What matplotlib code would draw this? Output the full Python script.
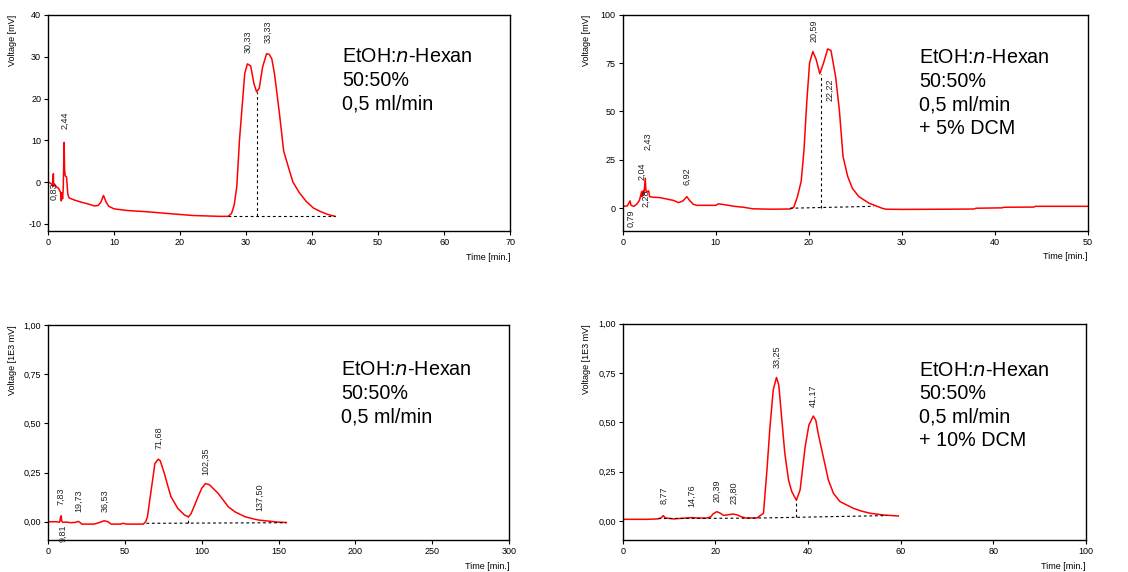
import matplotlib.pyplot as plt

plt.rcParams['font.family'] = ['Liberation Sans', 'DejaVu Sans']

#%% data
# top left: EtOH:n-Hexan 50:50, 0.5 ml/min
t1 = [0, 0.4, 0.7, 0.8, 0.85, 1.0, 1.3, 1.6, 1.9, 2.0, 2.1, 2.2, 2.3, 2.44, 2.5, 2.6, 2.8, 3.0, 3.2,
      4, 5, 6, 7, 7.6, 8.0, 8.4, 8.8, 9.2, 10, 12, 15, 18, 22, 26, 27.3, 27.8, 28.2, 28.6, 29.0,
      29.4, 29.8, 30.2, 30.7, 31.2, 31.6, 32.0, 32.5, 33.1, 33.5, 33.9, 34.3, 34.7, 35.1, 35.7,
      36.6, 37.1, 38.1, 39.1, 40.2, 41.2, 42.3, 43.5]
v1 = [0, -0.3, -0.8, 2.0, -1.0, -0.5, -1.2, -1.5, -2.5, -4.5, -2.5, -4.0, -1.5, 9.5, 3.0, 1.5, 1.2,
      -3.0, -3.8, -4.3, -4.8, -5.2, -5.7, -5.6, -4.8, -3.2, -4.8, -5.8, -6.4, -6.8, -7.1, -7.5,
      -8.0, -8.2, -8.2, -7.5, -5.5, -1.0, 10.0, 18.0, 26.0, 28.3, 27.8, 23.5, 21.6, 22.5, 27.5,
      30.7, 30.6, 29.5, 26.0, 21.0, 15.8, 7.4, 2.6, 0.0, -2.6, -4.6, -6.2, -7.0, -7.7, -8.2]
base1_t = [27.3, 43.5]
base1_v = [-8.2, -8.2]
drop1_t = 31.6
drop1_v = 21.6
lab1 = ['0,83', '2,44', '30,33', '33,33']
lab1_t = [0.9, 2.5, 30.3, 33.3]
lab1_v = [-0.2, 12.6, 31.0, 33.4]
lab1_va = ['top', 'bottom', 'bottom', 'bottom']

# top right: + 5% DCM
t2 = [0, 0.5, 0.79, 0.9, 1.2, 1.5, 1.8, 2.04, 2.1, 2.2, 2.28, 2.43, 2.5, 2.6, 2.8, 2.9, 3.2, 4, 5,
      5.5, 6.0, 6.5, 6.9, 7.2, 7.6, 8, 10, 10.3, 11, 12, 13, 14, 16, 18, 18.4, 18.8, 19.2, 19.5,
      19.8, 20.1, 20.45, 20.8, 21.2, 21.6, 22.05, 22.4, 22.9, 23.3, 23.7, 24.2, 24.7, 25.4, 26.5,
      27.9, 28.3, 30, 35, 37.8, 38, 40.8, 41, 44.2, 44.4, 50]
v2 = [1.0, 1.2, 3.8, 1.5, 1.0, 2.0, 4.0, 8.6, 6.0, 9.0, 7.0, 15.5, 9.0, 8.5, 9.0, 6.0, 5.7, 5.5,
      4.5, 4.0, 2.9, 3.8, 6.0, 4.0, 2.0, 1.5, 1.5, 2.3, 1.8, 1.0, 0.5, -0.3, -0.5, -0.4, 0.5, 6.0,
      14.0, 30.0, 55.0, 75.0, 81.0, 77.0, 69.5, 75.0, 82.3, 81.5, 68.0, 50.9, 26.7, 16.4, 10.3,
      6.0, 2.6, 0.0, -0.5, -0.6, -0.5, -0.4, 0.0, 0.2, 0.5, 0.6, 1.0, 1.0]
base2_t = [18.0, 27.0]
base2_v = [0.0, 1.0]
drop2_t = 21.3
drop2_v = 69.5
lab2 = ['0,79', '2,04', '2,28', '2,43', '6,92', '20,59', '22,22']
lab2_t = [0.9, 2.1, 2.5, 2.7, 6.95, 20.6, 22.3]
lab2_v = [-0.8, 14.7, 9.5, 30.0, 12.0, 85.7, 67.0]
lab2_va = ['top', 'bottom', 'top', 'bottom', 'bottom', 'bottom', 'top']

# bottom left: EtOH:n-Hexan 50:50, 0.5 ml/min
t3 = [0, 5, 7.5, 7.83, 8.3, 8.6, 8.81, 9.5, 12, 15, 18, 19.7, 21, 22, 26, 30, 33, 36.5, 39, 41, 47,
      49, 51, 62, 63.5, 64.7, 66, 68, 69.5, 71.7, 73, 75.7, 78, 80, 84.4, 88.8, 91.4, 93, 95.4,
      97.6, 100, 102.4, 105, 110.7, 117.3, 121.7, 128.3, 134.9, 137.5, 143.6, 150, 155]
v3 = [0.0, 0.0, -0.002, 0.01, 0.028, 0.03, 0.005, -0.003, -0.002, -0.005, -0.003, 0.002, -0.005,
      -0.012, -0.012, -0.012, -0.005, 0.005, 0.0, -0.012, -0.012, -0.008, -0.012, -0.012, 0.0,
      0.025, 0.1, 0.21, 0.295, 0.318, 0.31, 0.245, 0.18, 0.127, 0.068, 0.034, 0.025, 0.04, 0.084,
      0.127, 0.17, 0.194, 0.188, 0.144, 0.076, 0.05, 0.025, 0.012, 0.008, 0.003, -0.002, -0.004]
base3_t = [64.0, 155.0]
base3_v = [-0.008, -0.005]
drop3_t = 91.0
drop3_v = 0.025
lab3 = ['7,83', '9,81', '19,73', '36,53', '71,68', '102,35', '137,50']
lab3_t = [8.5, 9.8, 20.0, 37.0, 72.0, 102.4, 137.6]
lab3_v = [0.084, -0.012, 0.05, 0.05, 0.368, 0.236, 0.056]
lab3_va = ['bottom', 'top', 'bottom', 'bottom', 'bottom', 'bottom', 'bottom']

# bottom right: + 10% DCM
t4 = [0, 5, 7.5, 8.3, 8.77, 9.2, 10, 11, 12, 14, 14.8, 16, 18, 19, 19.5, 20.3, 21, 21.8, 22.5, 23.8,
      24.8, 25.5, 26.5, 29, 30.4, 31.2, 31.8, 32.5, 33.2, 33.7, 34.3, 35.0, 35.8, 36.5, 37.5,
      38.3, 39.4, 40.2, 41.15, 41.7, 42.2, 43.3, 44.4, 45.5, 46.9, 48, 49.8, 51.5, 53.4, 56.3, 59.5]
v4 = [0.008, 0.008, 0.01, 0.015, 0.027, 0.015, 0.013, 0.01, 0.012, 0.015, 0.017, 0.015, 0.014,
      0.02, 0.035, 0.047, 0.04, 0.028, 0.03, 0.035, 0.03, 0.022, 0.015, 0.015, 0.039, 0.275, 0.478,
      0.664, 0.728, 0.69, 0.529, 0.343, 0.208, 0.149, 0.105, 0.157, 0.377, 0.486, 0.532, 0.51,
      0.444, 0.326, 0.208, 0.14, 0.098, 0.085, 0.064, 0.05, 0.039, 0.03, 0.025]
base4_t = [7.7, 28.0, 57.0]
base4_v = [0.012, 0.014, 0.027]
drop4_t = 37.5
drop4_v = 0.105
lab4 = ['8,77', '14,76', '20,39', '23,80', '33,25', '41,17']
lab4_t = [8.9, 14.8, 20.4, 24.0, 33.3, 41.2]
lab4_v = [0.086, 0.073, 0.098, 0.086, 0.774, 0.579]
lab4_va = ['bottom'] * 6

#%% figure
fig = plt.figure(figsize=(11.28, 5.72), dpi=100)

panels = [
    # rect, x, y, baseline, drop, labels, xlim, ylim, xticks, yticks, ylabel, fmt, text pos
    ([0.0426, 0.5962, 0.4096, 0.3776], t1, v1, base1_t, base1_v, drop1_t, drop1_v,
     lab1, lab1_t, lab1_v, lab1_va, (0, 70), (-11.7, 40), range(0, 71, 10), range(-10, 41, 10),
     'Voltage [mV]', '%d', (0.636, 0.85)),
    ([0.552, 0.5967, 0.4122, 0.3776], t2, v2, base2_t, base2_v, drop2_t, drop2_v,
     lab2, lab2_t, lab2_v, lab2_va, (0, 50), (-11.6, 100), range(0, 51, 10), range(0, 101, 25),
     'Voltage [mV]', '%d', (0.637, 0.845)),
    ([0.0426, 0.0559, 0.4087, 0.3759], t3, v3, base3_t, base3_v, drop3_t, drop3_v,
     lab3, lab3_t, lab3_v, lab3_va, (0, 300), (-0.093, 1.0), range(0, 301, 50),
     [0, 0.25, 0.5, 0.75, 1.0], 'Voltage [1E3 mV]', '%.2f', (0.636, 0.835)),
    ([0.552, 0.0559, 0.4107, 0.378], t4, v4, base4_t, base4_v, drop4_t, drop4_v,
     lab4, lab4_t, lab4_v, lab4_va, (0, 100), (-0.097, 1.0), range(0, 101, 20),
     [0, 0.25, 0.5, 0.75, 1.0], 'Voltage [1E3 mV]', '%.2f', (0.64, 0.83)),
]
dcm = ['', '+ 5% DCM', '', '+ 10% DCM']

for k, p in enumerate(panels):
    (rect, tt, vv, bt, bv, dt, dv, lab, lt, lv, lva, xl, yl, xt, yt,
     ylab, fmt, tpos) = p
    ax = fig.add_axes(rect)
    ax.plot(tt, vv, color='#ff0000', lw=1.1)
    ax.plot(bt, bv, color='black', lw=0.8, ls=(0, (2.5, 2.5)))
    # drop line from baseline up to the valley
    b = bv[0] + (bv[-1] - bv[0]) * (dt - bt[0]) / (bt[-1] - bt[0])
    ax.plot([dt, dt], [b, dv], color='black', lw=0.8, ls=(0, (2.5, 2.5)))
    for s, x, y, va in zip(lab, lt, lv, lva):
        ax.text(x, y, s, rotation=90, ha='center', va=va, fontsize=6.5, color='#222222')
    ax.set_xlim(xl)
    ax.set_ylim(yl)
    ax.set_xticks(list(xt))
    ax.set_yticks(list(yt))
    ax.set_xticklabels([str(v) for v in xt])
    if fmt == '%d':
        ax.set_yticklabels([str(v) for v in yt])
    else:
        ax.set_yticklabels([('%.2f' % v).replace('.', ',') for v in yt])
    ax.tick_params(direction='out', length=3, width=0.8, labelsize=6.5, pad=2,
                   colors='black')
    for sp in ax.spines.values():
        sp.set_linewidth(1.0)
    ax.text(-0.078, 1.0, ylab, transform=ax.transAxes, rotation=90, ha='center', va='top',
            fontsize=6.5)
    ax.text(1.0, -0.1, 'Time [min.]', transform=ax.transAxes, ha='right', va='top',
            fontsize=6.5)
    lines = [r'EtOH:$\it{n}$-Hexan', '50:50%', '0,5 ml/min']
    if dcm[k]:
        lines.append(dcm[k])
    ax.text(tpos[0], tpos[1], '\n'.join(lines), transform=ax.transAxes, ha='left', va='top',
            fontsize=14.2, linespacing=1.3)

fig.savefig('out.png', dpi=100)
